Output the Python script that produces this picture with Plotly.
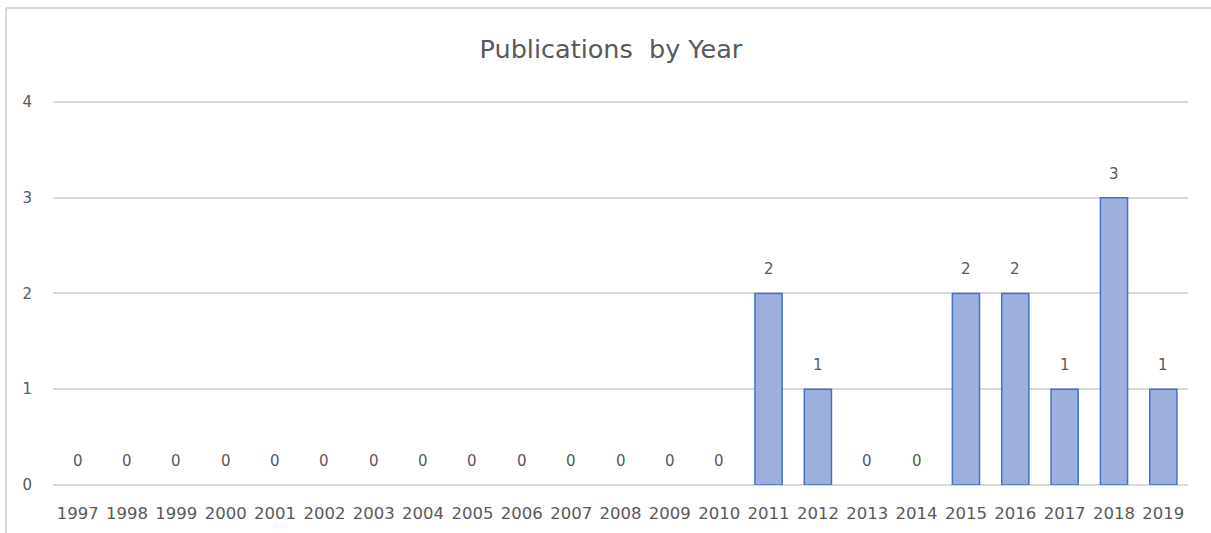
import plotly.graph_objects as go

years = [str(y) for y in range(1997, 2020)]
publications = [0, 0, 0, 0, 0, 0, 0, 0, 0, 0, 0, 0, 0, 0, 2, 1, 0, 0, 2, 2, 1, 3, 1]
y_ticks = [0, 1, 2, 3, 4]

FONT = "DejaVu Sans"
GREY = "#595959"

fig = go.Figure(
    go.Bar(
        x=years,
        y=publications,
        marker=dict(
            color="#9cafdd",
            line=dict(color="#4472c4",
                      width=[1.5 if v > 0 else 0 for v in publications]),
        ),
        hoverinfo="x+y",
    )
)

# value labels sitting above each bar (category axis: position by index)
annotations = [
    dict(x=i, y=v, xref="x", yref="y", text=str(v), showarrow=False,
         yanchor="middle", yshift=24,
         font=dict(family=FONT, size=15, color=GREY))
    for i, v in enumerate(publications)
]

fig.update_layout(
    width=1211,
    height=533,
    margin=dict(l=53, r=23, t=100, b=48, autoexpand=False),
    paper_bgcolor="white",
    plot_bgcolor="white",
    bargap=0.45,
    showlegend=False,
    annotations=annotations,
    title=dict(
        text="Publications&nbsp;&nbsp;by Year",
        x=0.4916,
        xref="paper",
        xanchor="center",
        y=1 - 49 / 533,
        yanchor="middle",
        font=dict(family=FONT, size=25.5, color=GREY),
    ),
    xaxis=dict(
        type="category",
        categoryorder="array",
        categoryarray=years,
        range=[-0.5, len(years) - 0.5],
        tickfont=dict(family=FONT, size=16.5, color=GREY),
        showgrid=False,
        showline=False,
        ticks="",
        ticklabelstandoff=16,
        automargin=False,
    ),
    yaxis=dict(
        range=[0, 4.02],
        tickvals=y_ticks,
        tickfont=dict(family=FONT, size=15, color=GREY),
        showgrid=True,
        gridcolor="#d9d9d9",
        gridwidth=1.5,
        zeroline=True,
        zerolinecolor="#d9d9d9",
        zerolinewidth=1.5,
        ticks="",
        ticklabelstandoff=20,
        automargin=False,
    ),
    shapes=[
        # chart frame (top and left edges visible)
        dict(type="line", xref="paper", yref="paper",
             x0=-47 / 1135, x1=1211 / 1135, y0=1 + 92 / 385, y1=1 + 92 / 385,
             line=dict(color="#d9d9d9", width=2)),
        dict(type="line", xref="paper", yref="paper",
             x0=-47 / 1135, x1=-47 / 1135, y0=1 + 92 / 385, y1=-48 / 385 - 0.01,
             line=dict(color="#d9d9d9", width=2)),
    ],
)

fig.write_html("out.html")
